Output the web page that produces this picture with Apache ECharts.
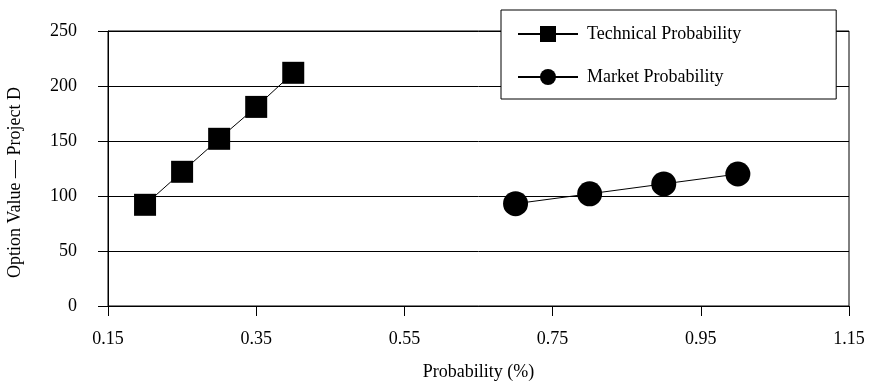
<!DOCTYPE html>
<html>
<head>
<meta charset="utf-8">
<script src="https://cdn.jsdelivr.net/npm/echarts@6/dist/echarts.min.js"></script>
<style>
html,body{margin:0;padding:0;background:#fff;}
#main{width:870px;height:387px;}
</style>
</head>
<body>
<div id="main"></div>
<script>
var techX = [0.2, 0.25, 0.3, 0.35, 0.4];
var techY = [92, 122, 152, 181, 212];
var marketX = [0.7, 0.8, 0.9, 1.0];
var marketY = [93, 102, 111, 120];
var seriesNames = ['Technical Probability', 'Market Probability'];

function pairs(xs, ys){
  var out = [];
  for (var i = 0; i < xs.length; i++) out.push([xs[i], ys[i]]);
  return out;
}

var font = '"Liberation Serif", "DejaVu Serif", serif';
var myChart = echarts.init(document.getElementById('main'));
var option = {
  animation: false,
  textStyle: { fontFamily: font, color: '#000' },
  grid: {
    left: 108, right: 21, top: 31, bottom: 81,
    outerBoundsMode: 'none',
    show: true, borderColor: '#000', borderWidth: 1
  },
  legend: {
    orient: 'vertical',
    left: 501,
    top: 10,
    padding: [15, 95, 13, 16],
    itemGap: 25,
    itemWidth: 60,
    itemHeight: 20,
    backgroundColor: '#fff',
    borderColor: '#000',
    borderWidth: 1,
    textStyle: { fontFamily: font, fontSize: 18, color: '#000', padding: [0, 0, 0, 4] },
    data: seriesNames
  },
  xAxis: {
    type: 'value',
    min: 0.15,
    max: 1.15,
    interval: 0.2,
    name: 'Probability (%)',
    nameLocation: 'middle',
    nameGap: 57,
    nameTextStyle: { fontSize: 18, color: '#000' },
    axisLine: { lineStyle: { color: '#000', width: 1 } },
    axisTick: { show: true, length: 10, lineStyle: { color: '#000' } },
    axisLabel: { fontSize: 18, color: '#000', margin: 24,
      formatter: function(v){ return v.toFixed(2); } },
    splitLine: { show: false }
  },
  yAxis: {
    type: 'value',
    min: 0,
    max: 250,
    interval: 50,
    name: 'Option Value — Project D',
    nameLocation: 'middle',
    nameGap: 84,
    nameTextStyle: { fontSize: 18, color: '#000', padding: [0, 28, 0, 0] },
    axisLine: { show: true, lineStyle: { color: '#000', width: 1 } },
    axisTick: { show: true, length: 10, inside: false, lineStyle: { color: '#000' } },
    axisLabel: { fontSize: 18, color: '#000', margin: 31 },
    splitLine: { show: true, lineStyle: { color: '#000', width: 1 } }
  },
  series: [
    {
      name: seriesNames[0],
      type: 'line',
      data: pairs(techX, techY),
      symbol: 'rect',
      symbolSize: 22,
      itemStyle: { color: '#000' },
      lineStyle: { color: '#000', width: 1 }
    },
    {
      name: seriesNames[1],
      type: 'line',
      data: pairs(marketX, marketY),
      symbol: 'circle',
      symbolSize: 25,
      itemStyle: { color: '#000' },
      lineStyle: { color: '#000', width: 1 }
    }
  ]
};
myChart.setOption(option);
</script>
</body>
</html>
